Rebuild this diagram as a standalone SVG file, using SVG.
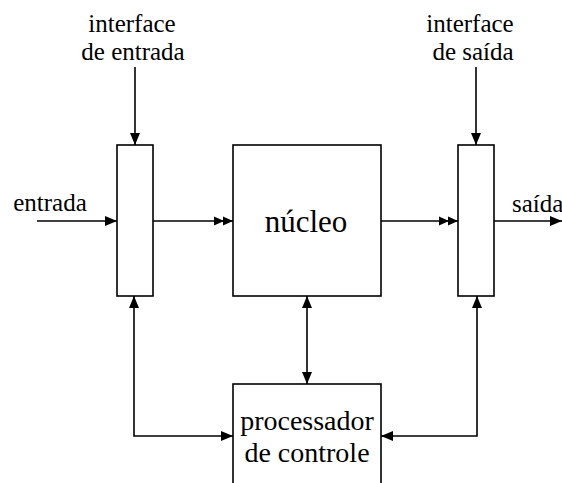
<svg xmlns="http://www.w3.org/2000/svg" width="562" height="483" viewBox="0 0 562 483">
<style>
.box{fill:#fff;stroke:#000;stroke-width:1.6}
.ln{fill:none;stroke:#000;stroke-width:1.6}
.t{font-family:'Liberation Serif','Times New Roman',serif;fill:#000;text-anchor:middle}
.s{font-size:25px}
</style>
<defs>
<marker id="a" markerUnits="userSpaceOnUse" markerWidth="13" markerHeight="10" refX="12" refY="5" orient="auto-start-reverse" viewBox="0 0 13 10">
<path d="M0,0 L12,5 L0,10 z" fill="#000"/>
</marker>
<marker id="d" markerUnits="userSpaceOnUse" markerWidth="20" markerHeight="10" refX="19" refY="5" orient="auto" viewBox="0 0 20 10">
<path d="M0,0.5 L10,5 L0,9.5 z M9,0.5 L19,5 L9,9.5 z" fill="#000"/>
</marker>
</defs>
<g id="connectors">
<path class="ln" d="M135,67 V145" marker-end="url(#a)"/>
<path class="ln" d="M476,67 V145" marker-end="url(#a)"/>
<path class="ln" d="M37,221 H117" marker-end="url(#a)"/>
<path class="ln" d="M153,221 H233" marker-end="url(#d)"/>
<path class="ln" d="M381,221 H458" marker-end="url(#d)"/>
<path class="ln" d="M494,221 H562" marker-end="url(#a)"/>
<path class="ln" d="M233,436 H134 V296" marker-start="url(#a)" marker-end="url(#a)"/>
<path class="ln" d="M307,296 V384" marker-start="url(#a)" marker-end="url(#a)"/>
<path class="ln" d="M381,436 H477 V296" marker-start="url(#a)" marker-end="url(#a)"/>
</g>
<g id="interface-entrada">
<rect class="box" x="117" y="145" width="36" height="151"/>
<text class="t s" x="132" y="32">interface</text>
<text class="t s" x="133" y="60">de entrada</text>
</g>
<g id="nucleo">
<rect class="box" x="233" y="145" width="148" height="151"/>
<text class="t" x="306" y="232" font-size="31">núcleo</text>
</g>
<g id="interface-saida">
<rect class="box" x="458" y="145" width="36" height="151"/>
<text class="t s" x="470" y="32">interface</text>
<text class="t s" x="473" y="60">de saída</text>
</g>
<g id="processador">
<rect class="box" x="233" y="384" width="148" height="110"/>
<text class="t" x="307" y="430" font-size="28">processador</text>
<text class="t" x="307" y="462" font-size="28">de controle</text>
</g>
<g id="labels">
<text class="t s" x="50" y="211">entrada</text>
<text class="t s" x="512" y="212" style="text-anchor:start">saída</text>
</g>
</svg>
